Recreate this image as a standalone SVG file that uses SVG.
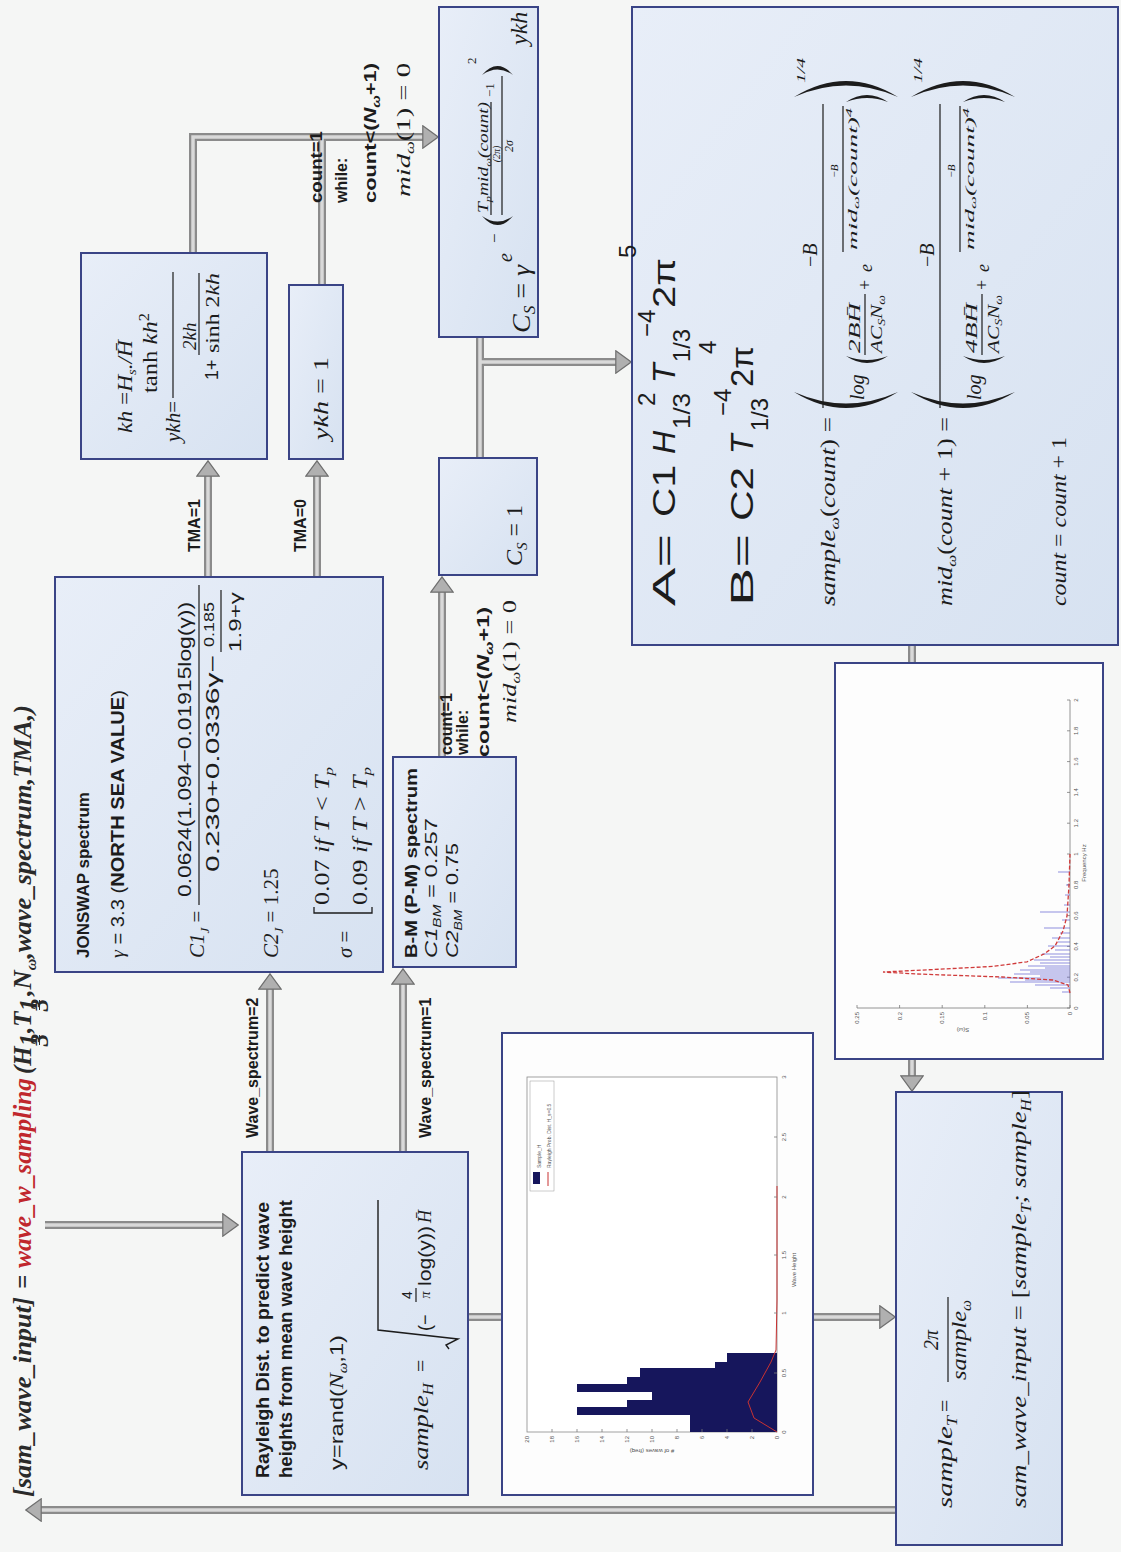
<svg xmlns="http://www.w3.org/2000/svg" width="1121" height="1552" viewBox="0 0 1121 1552">
<defs>
  <linearGradient id="bf" x1="0" y1="0" x2="1" y2="1">
    <stop offset="0" stop-color="#e8eef8"/>
    <stop offset="1" stop-color="#d7e2f1"/>
  </linearGradient>
  <marker id="ah" viewBox="0 0 17 24" refX="1" refY="12" markerWidth="17" markerHeight="24" markerUnits="userSpaceOnUse" orient="auto">
    <path d="M0.8,0.8 L16.2,12 L0.8,23.2 Z" fill="#b0b0b0" stroke="#6e6e6e" stroke-width="1.2"/>
  </marker>
  <style>
    .box{fill:url(#bf);stroke:#3a4486;stroke-width:2}
    .pbox{fill:#fdfdfd;stroke:#3a4486;stroke-width:2}
    .sh{fill:none;stroke:#8b8b8b;stroke-width:8}
    .si{fill:none;stroke:#d9d9d9;stroke-width:3.5}
    .arr{marker-end:url(#ah)}
    .sb{font-family:'Liberation Sans',Arial,sans-serif;font-weight:bold;fill:#1c1c1c}
    .ss{font-family:'Liberation Sans',Arial,sans-serif;fill:#1c1c1c}
    .mi{font-family:'Liberation Serif','DejaVu Serif',serif;font-style:italic;fill:#1c1c1c}
    .mr{font-family:'Liberation Serif','DejaVu Serif',serif;fill:#1c1c1c}
    .up{font-style:normal}
    .it{font-style:italic}
    .bar{stroke:#1c1c1c;stroke-width:1.2}
    .par{fill:#1c1c1c}
    .tt{font-family:'Liberation Serif','DejaVu Serif',serif;font-weight:bold;font-style:italic;fill:#2a2a2a;font-size:25px}
    .red{fill:#c0272d}
    .tk{font-family:'Liberation Sans',Arial,sans-serif;font-size:6px;fill:#555}
    .ax{fill:none;stroke:#7a7a7a;stroke-width:0.8}
  </style>
</defs>

<rect width="1121" height="1552" fill="#f5f6f5"/>

<!-- connectors: outer grey shaft, then light core with arrowheads -->
<g id="connectors">
  <g class="sh">
    <path d="M45,1225 H223"/>
    <path d="M270,1152 V989"/>
    <path d="M403,1152 V984"/>
    <path d="M208,577 V476"/>
    <path d="M317,577 V476"/>
    <path d="M193,253 V137 H423"/>
    <path d="M322,285 V137"/>
    <path d="M442,757 V592"/>
    <path d="M480,458 V337"/>
    <path d="M480,362 H616"/>
    <path d="M912,645 V663"/>
    <path d="M912,1059 V1076"/>
    <path d="M468,1317 H502"/>
    <path d="M813,1317 H880"/>
    <path d="M896,1510 H41"/>
  </g>
  <g class="si">
    <path class="arr" d="M45,1225 H223"/>
    <path class="arr" d="M270,1152 V989"/>
    <path class="arr" d="M403,1152 V984"/>
    <path class="arr" d="M208,577 V476"/>
    <path class="arr" d="M317,577 V476"/>
    <path class="arr" d="M193,253 V137 H423"/>
    <path d="M322,285 V137"/>
    <path class="arr" d="M442,757 V592"/>
    <path d="M480,458 V337"/>
    <path class="arr" d="M480,362 H616"/>
    <path d="M912,645 V663"/>
    <path class="arr" d="M912,1059 V1076"/>
    <path d="M468,1317 H502"/>
    <path class="arr" d="M813,1317 H880"/>
    <path class="arr" d="M896,1510 H41"/>
  </g>
</g>

<!-- function signature -->
<g id="title" transform="translate(0,1552) rotate(-90)">
  <text class="tt" x="55" y="31" textLength="200" lengthAdjust="spacingAndGlyphs">[sam_wave_input]</text>
  <text class="tt" x="263" y="31" font-weight="normal" font-style="normal">=</text>
  <text class="tt red" x="284" y="31" textLength="190" lengthAdjust="spacingAndGlyphs">wave_w_sampling</text>
  <text class="tt" x="478" y="31">(H</text>
  <text class="tt" x="512" y="37" font-size="11" text-anchor="middle">1</text>
  <line x1="507" y1="39.5" x2="517" y2="39.5" stroke="#2a2a2a" stroke-width="1"/>
  <text class="tt" x="512" y="48" font-size="11" text-anchor="middle">3</text>
  <text class="tt" x="519" y="31">,T</text>
  <text class="tt" x="547" y="37" font-size="11" text-anchor="middle">1</text>
  <line x1="542" y1="39.5" x2="552" y2="39.5" stroke="#2a2a2a" stroke-width="1"/>
  <text class="tt" x="547" y="48" font-size="11" text-anchor="middle">3</text>
  <text class="tt" x="556" y="31" textLength="291" lengthAdjust="spacingAndGlyphs">,N<tspan font-size="15" dy="5">ω</tspan><tspan dy="-5">,wave_spectrum,TMA,)</tspan></text>
</g>

<!-- Rayleigh wave height sampling -->
<g id="node-rayleigh">
  <rect class="box" x="242" y="1152" width="226" height="343"/>
  <g transform="translate(0,1552) rotate(-90)">
    <text class="sb" font-size="17.5" x="74" y="269" textLength="276" lengthAdjust="spacingAndGlyphs">Rayleigh Dist. to predict wave</text>
    <text class="sb" font-size="17.5" x="74" y="292" textLength="278" lengthAdjust="spacingAndGlyphs">heights from mean wave height</text>
    <text class="ss" font-size="19" x="82" y="343" textLength="135" lengthAdjust="spacingAndGlyphs">y=rand(<tspan class="it" font-family="Liberation Serif, serif">N</tspan><tspan class="it" font-family="Liberation Serif, serif" font-size="12" dy="4">ω</tspan><tspan dy="-4">,1)</tspan></text>
    <text class="mi" font-size="22" x="82" y="428" textLength="87" lengthAdjust="spacingAndGlyphs">sample<tspan font-size="14" dy="5">H</tspan></text>
    <text class="mr" font-size="22" x="180" y="428">=</text>
    <path d="M203,449 L207,446 L213,458 L222,378 L352,378" fill="none" stroke="#1c1c1c" stroke-width="1.4"/>
    <text class="ss" font-size="18" x="221" y="431">(−</text>
    <text class="ss" font-size="14" x="257" y="412" text-anchor="middle">4</text>
    <line class="bar" x1="250" y1="416" x2="264" y2="416"/>
    <text class="mi" font-size="14" x="257" y="430" text-anchor="middle">π</text>
    <text class="ss" font-size="18" x="266" y="431" textLength="60" lengthAdjust="spacingAndGlyphs">log(y))</text>
    <text class="mi" font-size="18" x="329" y="431">H̄</text>
  </g>
</g>

<!-- JONSWAP spectrum -->
<g id="node-jonswap">
  <rect class="box" x="55" y="577" width="328" height="395"/>
  <g transform="translate(0,1552) rotate(-90)">
    <text class="sb" font-size="17" x="594" y="89">JONSWAP spectrum</text>
    <text class="ss" font-size="18" x="594" y="124" textLength="268" lengthAdjust="spacingAndGlyphs"><tspan class="it" font-family="Liberation Serif, serif">γ</tspan> = 3.3 (<tspan font-weight="bold">NORTH SEA VALUE</tspan>)</text>
    <text class="mi" font-size="21" x="594" y="204">C1<tspan font-size="13" dy="5">J</tspan><tspan class="up" dy="-5"> =</tspan></text>
    <text class="ss" font-size="19" x="655" y="191" textLength="295" lengthAdjust="spacingAndGlyphs">0.0624(1.094−0.01915log(γ))</text>
    <line class="bar" x1="647" y1="199" x2="967" y2="199"/>
    <text class="ss" font-size="19" x="680" y="219" textLength="217" lengthAdjust="spacingAndGlyphs">0.230+0.0336γ−</text>
    <text class="ss" font-size="15" x="905" y="214" textLength="45" lengthAdjust="spacingAndGlyphs">0.185</text>
    <line class="bar" x1="900" y1="221" x2="962" y2="221"/>
    <text class="ss" font-size="16" x="900" y="241" textLength="60" lengthAdjust="spacingAndGlyphs">1.9+γ</text>
    <text class="mi" font-size="21" x="594" y="278">C2<tspan font-size="13" dy="5">J</tspan><tspan class="up" dy="-5"> = 1.25</tspan></text>
    <text class="mi" font-size="21" x="594" y="352">σ<tspan class="up"> =</tspan></text>
    <path d="M645,314 L639,314 L639,372 L645,372" fill="none" stroke="#1c1c1c" stroke-width="1.3"/>
    <text class="mr" font-size="20" x="647" y="329" textLength="138" lengthAdjust="spacingAndGlyphs">0.07 <tspan class="it">if T</tspan> &lt; <tspan class="it">T</tspan><tspan class="it" font-size="13" dy="4">p</tspan></text>
    <text class="mr" font-size="20" x="647" y="367" textLength="138" lengthAdjust="spacingAndGlyphs">0.09 <tspan class="it">if T</tspan> &gt; <tspan class="it">T</tspan><tspan class="it" font-size="13" dy="4">p</tspan></text>
  </g>
</g>

<!-- Bretschneider / Pierson-Moskowitz spectrum -->
<g id="node-bm">
  <rect class="box" x="393" y="757" width="123" height="210"/>
  <g transform="translate(0,1552) rotate(-90)">
    <text class="sb" font-size="16" x="594" y="417" textLength="190" lengthAdjust="spacingAndGlyphs">B-M (P-M) spectrum</text>
    <text class="ss" font-size="17" x="594" y="437" textLength="140" lengthAdjust="spacingAndGlyphs"><tspan class="it">C1</tspan><tspan class="it" font-size="11" dy="4">BM</tspan><tspan dy="-4"> = 0.257</tspan></text>
    <text class="ss" font-size="17" x="594" y="458" textLength="115" lengthAdjust="spacingAndGlyphs"><tspan class="it">C2</tspan><tspan class="it" font-size="11" dy="4">BM</tspan><tspan dy="-4"> = 0.75</tspan></text>
  </g>
</g>

<!-- TMA depth correction -->
<g id="node-kh">
  <rect class="box" x="81" y="253" width="186" height="206"/>
  <g transform="translate(0,1552) rotate(-90)">
    <text class="mi" font-size="21" x="1119" y="132" textLength="93" lengthAdjust="spacingAndGlyphs">kh <tspan class="up">=</tspan>H<tspan font-size="13" dy="4">s</tspan><tspan dy="-4">./H̄</tspan></text>
    <text class="mi" font-size="21" x="1110" y="180">ykh<tspan class="up">=</tspan></text>
    <text class="mr" font-size="21" x="1159" y="157" textLength="80" lengthAdjust="spacingAndGlyphs">tanh <tspan class="it">kh</tspan><tspan font-size="14" dy="-8">2</tspan></text>
    <line class="bar" x1="1154" y1="173" x2="1280" y2="173"/>
    <text class="ss" font-size="18" x="1172" y="218">1+</text>
    <text class="mi" font-size="19" x="1202" y="196">2kh</text>
    <line class="bar" x1="1197" y1="199" x2="1279" y2="199"/>
    <text class="mr" font-size="19" x="1199" y="219" textLength="80" lengthAdjust="spacingAndGlyphs">sinh 2<tspan class="it">kh</tspan></text>
  </g>
</g>

<g id="node-ykh1">
  <rect class="box" x="289" y="285" width="54" height="174"/>
  <g transform="translate(0,1552) rotate(-90)">
    <text class="mi" font-size="21" x="1112" y="328" textLength="83" lengthAdjust="spacingAndGlyphs">ykh <tspan class="up">= 1</tspan></text>
  </g>
</g>

<!-- peak enhancement factor, JONSWAP -->
<g id="node-cs-gamma">
  <rect class="box" x="439" y="7" width="99" height="330"/>
  <g transform="translate(0,1552) rotate(-90)">
    <text class="mi" font-size="26" x="1219" y="530" textLength="68" lengthAdjust="spacingAndGlyphs">C<tspan font-size="16" dy="5">S</tspan><tspan class="up" dy="-5"> = </tspan>γ</text>
    <text class="mi" font-size="20" x="1290" y="512">e</text>
    <text class="mr" font-size="17" x="1309" y="500">−</text>
    <path class="par" d="M1336,482 Q1318,497.5 1336,513 Q1325,497.5 1336,482 Z"/>
    <text class="mi" font-size="14" x="1339" y="488" textLength="111" lengthAdjust="spacingAndGlyphs">T<tspan font-size="9" dy="3">p</tspan><tspan dy="-3">mid</tspan><tspan font-size="9" dy="3">ω</tspan><tspan dy="-3">(count)</tspan></text>
    <line class="bar" x1="1337" y1="491" x2="1450" y2="491" stroke-width="1"/>
    <text class="mi" font-size="10" x="1398" y="499.5" text-anchor="middle">(2π)</text>
    <text class="mr" font-size="13" x="1455" y="494">−1</text>
    <line class="bar" x1="1337" y1="502" x2="1476" y2="502" stroke-width="1"/>
    <text class="mi" font-size="12" x="1406" y="513" text-anchor="middle">2σ</text>
    <path class="par" d="M1477,482 Q1495,497.5 1477,513 Q1488,497.5 1477,482 Z"/>
    <text class="mr" font-size="13" x="1488" y="476">2</text>
    <text class="mi" font-size="24" x="1507" y="527">ykh</text>
  </g>
</g>

<g id="node-cs1">
  <rect class="box" x="439" y="458" width="98" height="117"/>
  <g transform="translate(0,1552) rotate(-90)">
    <text class="mi" font-size="24" x="986" y="522">C<tspan font-size="15" dy="5">S</tspan><tspan class="up" dy="-5"> = 1</tspan></text>
  </g>
</g>

<!-- frequency sampling loop -->
<g id="node-ab">
  <rect class="box" x="632" y="7" width="486" height="638"/>
  <g transform="translate(0,1552) rotate(-90)">
    <g class="ss" font-size="32">
      <text x="946" y="675" textLength="72" lengthAdjust="spacingAndGlyphs">A=</text>
      <text x="1035" y="675" textLength="52" lengthAdjust="spacingAndGlyphs">C1</text>
      <text x="1098" y="675" font-style="italic">H</text>
      <text x="1123" y="690" font-size="24" textLength="36" lengthAdjust="spacingAndGlyphs">1/3</text>
      <text x="1146" y="655" font-size="24">2</text>
      <text x="1169" y="675" font-style="italic">T</text>
      <text x="1190" y="690" font-size="24" textLength="33" lengthAdjust="spacingAndGlyphs">1/3</text>
      <text x="1215" y="655" font-size="24">−4</text>
      <text x="1244" y="675" textLength="50" lengthAdjust="spacingAndGlyphs">2π</text>
      <text x="1294" y="636" font-size="24">5</text>
      <text x="946" y="753" textLength="72" lengthAdjust="spacingAndGlyphs">B=</text>
      <text x="1031" y="753" textLength="54" lengthAdjust="spacingAndGlyphs">C2</text>
      <text x="1098" y="753" font-style="italic">T</text>
      <text x="1121" y="768" font-size="24" textLength="33" lengthAdjust="spacingAndGlyphs">1/3</text>
      <text x="1136" y="731" font-size="24">−4</text>
      <text x="1165" y="753" textLength="41" lengthAdjust="spacingAndGlyphs">2π</text>
      <text x="1198" y="716" font-size="24">4</text>
    </g>
    <g id="f-sample">
      <text class="mi" font-size="20" x="946" y="835" textLength="189" lengthAdjust="spacingAndGlyphs">sample<tspan font-size="13" dy="4">ω</tspan><tspan dy="-4" class="up">(</tspan>count<tspan class="up">) =</tspan></text>
      <path class="par" d="M1160,794 Q1128,846 1160,898 Q1137,846 1160,794 Z"/>
      <text class="mr" font-size="20" x="1285" y="817">−<tspan class="it">B</tspan></text>
      <line class="bar" x1="1144" y1="823" x2="1448" y2="823"/>
      <text class="mi" font-size="20" x="1152" y="864">log</text>
      <path class="par" d="M1196,846 Q1182,867 1196,888 Q1188,867 1196,846 Z"/>
      <text class="mi" font-size="17" x="1199" y="860" textLength="50" lengthAdjust="spacingAndGlyphs">2BH̄</text>
      <line class="bar" x1="1197" y1="865" x2="1258" y2="865"/>
      <text class="mi" font-size="17" x="1199" y="882" textLength="58" lengthAdjust="spacingAndGlyphs">AC<tspan font-size="11" dy="3">S</tspan><tspan dy="-3">N</tspan><tspan font-size="11" dy="3">ω</tspan></text>
      <text class="mr" font-size="18" x="1262" y="871">+</text>
      <text class="mi" font-size="18" x="1280" y="872">e</text>
      <text class="mr" font-size="11" x="1381" y="838" text-anchor="middle">−<tspan class="it">B</tspan></text>
      <line class="bar" x1="1300" y1="843" x2="1446" y2="843" stroke-width="0.9"/>
      <text class="mi" font-size="12" x="1302" y="857" textLength="142" lengthAdjust="spacingAndGlyphs">mid<tspan font-size="8" dy="2">ω</tspan><tspan dy="-2">(count)</tspan><tspan font-size="8" dy="-5">4</tspan></text>
      <path class="par" d="M1450,846 Q1464,867 1450,888 Q1458,867 1450,846 Z"/>
      <path class="par" d="M1455,794 Q1487,846 1455,898 Q1478,846 1455,794 Z"/>
      <text class="mi" font-size="13" x="1469" y="805" textLength="25" lengthAdjust="spacingAndGlyphs">1/4</text>
    </g>
    <g id="f-mid" transform="translate(0,117)">
      <text class="mi" font-size="20" x="946" y="835" textLength="189" lengthAdjust="spacingAndGlyphs">mid<tspan font-size="13" dy="4">ω</tspan><tspan dy="-4" class="up">(</tspan>count<tspan class="up"> + 1) =</tspan></text>
      <path class="par" d="M1160,794 Q1128,846 1160,898 Q1137,846 1160,794 Z"/>
      <text class="mr" font-size="20" x="1285" y="817">−<tspan class="it">B</tspan></text>
      <line class="bar" x1="1144" y1="823" x2="1448" y2="823"/>
      <text class="mi" font-size="20" x="1152" y="864">log</text>
      <path class="par" d="M1196,846 Q1182,867 1196,888 Q1188,867 1196,846 Z"/>
      <text class="mi" font-size="17" x="1199" y="860" textLength="50" lengthAdjust="spacingAndGlyphs">4BH̄</text>
      <line class="bar" x1="1197" y1="865" x2="1258" y2="865"/>
      <text class="mi" font-size="17" x="1199" y="882" textLength="58" lengthAdjust="spacingAndGlyphs">AC<tspan font-size="11" dy="3">S</tspan><tspan dy="-3">N</tspan><tspan font-size="11" dy="3">ω</tspan></text>
      <text class="mr" font-size="18" x="1262" y="871">+</text>
      <text class="mi" font-size="18" x="1280" y="872">e</text>
      <text class="mr" font-size="11" x="1381" y="838" text-anchor="middle">−<tspan class="it">B</tspan></text>
      <line class="bar" x1="1300" y1="843" x2="1446" y2="843" stroke-width="0.9"/>
      <text class="mi" font-size="12" x="1302" y="857" textLength="142" lengthAdjust="spacingAndGlyphs">mid<tspan font-size="8" dy="2">ω</tspan><tspan dy="-2">(count)</tspan><tspan font-size="8" dy="-5">4</tspan></text>
      <path class="par" d="M1450,846 Q1464,867 1450,888 Q1458,867 1450,846 Z"/>
      <path class="par" d="M1455,794 Q1487,846 1455,898 Q1478,846 1455,794 Z"/>
      <text class="mi" font-size="13" x="1469" y="805" textLength="25" lengthAdjust="spacingAndGlyphs">1/4</text>
    </g>
    <text class="mi" font-size="20" x="946" y="1066" textLength="169" lengthAdjust="spacingAndGlyphs">count <tspan class="up">=</tspan> count <tspan class="up">+ 1</tspan></text>
  </g>
</g>

<!-- sampled spectrum plot -->
<g id="node-spectrum-plot">
  <rect class="pbox" x="835" y="663" width="268" height="396"/>
  <path class="ax" d="M857,1008 H1070 V700"/>
  <path class="ax" d="M1070,1008h-3M1070,977.2h-3M1070,946.4h-3M1070,915.6h-3M1070,884.8h-3M1070,854h-3M1070,823.2h-3M1070,792.4h-3M1070,761.6h-3M1070,730.8h-3M1070,700h-3M1070,1008v-3M1027.4,1008v-3M984.8,1008v-3M942.2,1008v-3M899.6,1008v-3M857,1008v-3"/>
  <path d="M1070,992h-8M1070,988h-20M1070,985h-35M1070,982h-60M1070,980h-45M1070,978h-72M1070,976h-30M1070,974h-56M1070,972h-40M1070,970h-50M1070,968h-25M1070,966h-42M1070,963h-30M1070,960h-36M1070,957h-20M1070,954h-28M1070,950h-15M1070,946h-22M1070,942h-12M1070,938h-18M1070,933h-10M1070,928h-26M1070,920h-8M1070,912h-30M1070,905h-6M1070,895h-5M1070,885h-4M1070,872h-12" stroke="#5a5ad0" stroke-width="0.9" opacity="0.75" fill="none"/>
  <polyline points="1070,993 1068,985 1053,980 1002,977 917,974 883,972 934,969.5 993,966.4 1027,961.8 1044,954 1055,946 1063,931 1067,916 1069,885 1070,854" fill="none" stroke="#d03a3a" stroke-width="1.3" stroke-dasharray="4 2"/>
  <g class="tk" transform="translate(0,1552) rotate(-90)" text-anchor="middle">
    <text x="544" y="1078">0</text><text x="574.8" y="1078">0.2</text><text x="605.6" y="1078">0.4</text><text x="636.4" y="1078">0.6</text><text x="667.2" y="1078">0.8</text><text x="698" y="1078">1</text><text x="728.8" y="1078">1.2</text><text x="759.6" y="1078">1.4</text><text x="790.4" y="1078">1.6</text><text x="821.2" y="1078">1.8</text><text x="852" y="1078">2</text>
    <text x="689" y="1086">Frequency Hz</text>
    <g text-anchor="end">
      <text x="540" y="1072">0</text><text x="540" y="1029">0.05</text><text x="540" y="987">0.1</text><text x="540" y="944">0.15</text><text x="540" y="902">0.2</text><text x="540" y="859">0.25</text>
    </g>
    <text transform="translate(524,963) rotate(-90)">S(ω)</text>
  </g>
</g>

<!-- sampled wave height histogram -->
<g id="node-histogram">
  <rect class="pbox" x="502" y="1033" width="311" height="462"/>
  <rect x="527" y="1077" width="250" height="355" fill="#fff" stroke="#8a8a8a" stroke-width="0.8"/>
  <g fill="#16165c">
    <rect x="690" y="1415" width="87" height="17"/>
    <rect x="577" y="1407" width="200" height="8"/>
    <rect x="627" y="1400" width="150" height="7"/>
    <rect x="652" y="1392" width="125" height="8"/>
    <rect x="577" y="1384" width="200" height="8"/>
    <rect x="627" y="1377" width="150" height="7"/>
    <rect x="640" y="1368" width="137" height="9"/>
    <rect x="715" y="1362" width="62" height="6"/>
    <rect x="727" y="1353" width="50" height="9"/>
  </g>
  <polyline points="777,1432 754,1418 748,1402 760,1382 771,1362 776,1350 777,1300 777,1186" fill="none" stroke="#c83232" stroke-width="1"/>
  <path class="ax" d="M552,1432v-3M577,1432v-3M602,1432v-3M627,1432v-3M652,1432v-3M677,1432v-3M702,1432v-3M727,1432v-3M752,1432v-3M777,1373h-3M777,1313h-3M777,1255h-3M777,1197h-3M777,1137h-3"/>
  <rect x="530" y="1081" width="24" height="110" fill="#fff" stroke="#999" stroke-width="0.5"/>
  <rect x="533" y="1172" width="7" height="12" fill="#16165c"/>
  <line x1="548" y1="1172" x2="548" y2="1186" stroke="#c83232" stroke-width="1"/>
  <g class="tk" transform="translate(0,1552) rotate(-90)">
    <text x="384" y="541" font-size="5">Sample_H</text>
    <text x="384" y="551" font-size="5">Rayleigh Prob. Dist. H_s=0.5</text>
    <g text-anchor="end">
      <text x="116" y="779">0</text><text x="116" y="754">2</text><text x="116" y="729">4</text><text x="116" y="704">6</text><text x="116" y="679">8</text><text x="116" y="654">10</text><text x="116" y="629">12</text><text x="116" y="604">14</text><text x="116" y="579">16</text><text x="116" y="554">18</text><text x="116" y="529">20</text>
    </g>
    <g text-anchor="middle">
      <text x="120" y="786">0</text><text x="179" y="786">0.5</text><text x="239" y="786">1</text><text x="297" y="786">1.5</text><text x="355" y="786">2</text><text x="415" y="786">2.5</text><text x="475" y="786">3</text>
      <text x="282" y="796">Wave Height</text>
      <text transform="translate(103,652) rotate(-90)"># of waves (freq)</text>
    </g>
  </g>
</g>

<!-- period conversion and output -->
<g id="node-sampleT">
  <rect class="box" x="896" y="1092" width="166" height="453"/>
  <g transform="translate(0,1552) rotate(-90)">
    <text class="mi" font-size="22" x="44" y="952" textLength="92" lengthAdjust="spacingAndGlyphs">sample<tspan font-size="14" dy="5">T</tspan></text>
    <text class="mr" font-size="22" x="140" y="952">=</text>
    <text class="mi" font-size="20" x="212" y="938" text-anchor="middle">2π</text>
    <line class="bar" x1="170" y1="948" x2="255" y2="948"/>
    <text class="mi" font-size="22" x="172" y="966" textLength="80" lengthAdjust="spacingAndGlyphs">sample<tspan font-size="14" dy="5">ω</tspan></text>
    <text class="mi" font-size="22" x="44" y="1026" textLength="418" lengthAdjust="spacingAndGlyphs">sam_wave_input <tspan class="up">= [</tspan>sample<tspan font-size="14" dy="5">T</tspan><tspan dy="-5">; sample</tspan><tspan font-size="14" dy="5">H</tspan><tspan dy="-5" class="up">]</tspan></text>
  </g>
</g>

<!-- connector labels -->
<g id="connector-labels" transform="translate(0,1552) rotate(-90)">
  <text class="sb" font-size="16" x="414" y="258">Wave_spectrum=2</text>
  <text class="sb" font-size="16" x="414" y="431">Wave_spectrum=1</text>
  <text class="sb" font-size="16" x="1000" y="200">TMA=1</text>
  <text class="sb" font-size="16" x="1000" y="306">TMA=0</text>
  <text class="sb" font-size="16" x="797" y="452">count=1</text>
  <text class="sb" font-size="16" x="797" y="468">while:</text>
  <text class="sb" font-size="16" x="795" y="489" textLength="150" lengthAdjust="spacingAndGlyphs">count&lt;(<tspan class="it">N</tspan><tspan class="it" font-size="11" dy="4">ω</tspan><tspan dy="-4">+1)</tspan></text>
  <text class="mi" font-size="19" x="829" y="516" textLength="123" lengthAdjust="spacingAndGlyphs">mid<tspan font-size="12" dy="4">ω</tspan><tspan class="up" dy="-4">(1) = 0</tspan></text>
  <text class="sb" font-size="16" x="1349" y="322" textLength="72" lengthAdjust="spacingAndGlyphs">count=1</text>
  <text class="sb" font-size="16" x="1349" y="347">while:</text>
  <text class="sb" font-size="16" x="1349" y="376" textLength="140" lengthAdjust="spacingAndGlyphs">count&lt;(<tspan class="it">N</tspan><tspan class="it" font-size="11" dy="4">ω</tspan><tspan dy="-4">+1)</tspan></text>
  <text class="mi" font-size="19" x="1355" y="410" textLength="134" lengthAdjust="spacingAndGlyphs">mid<tspan font-size="12" dy="4">ω</tspan><tspan class="up" dy="-4">(1) = 0</tspan></text>
</g>
</svg>
